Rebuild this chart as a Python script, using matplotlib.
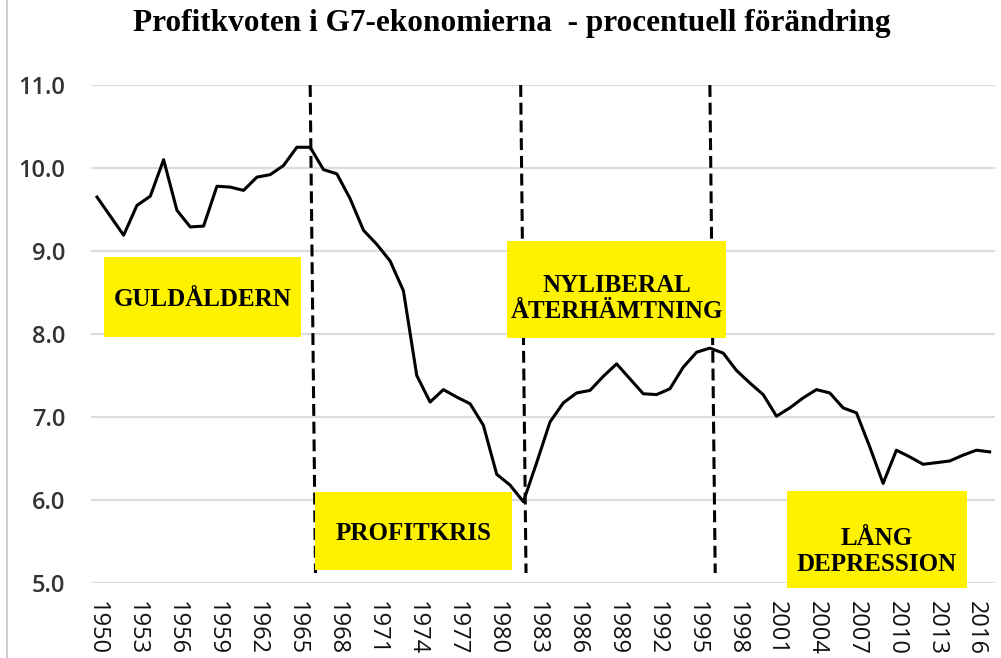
import matplotlib
matplotlib.use("Agg")
import matplotlib.pyplot as plt
from matplotlib.patches import Rectangle

years = list(range(1950, 2018))
profit_rate = [
    9.65, 9.42, 9.19, 9.55, 9.66, 10.10, 9.49, 9.29, 9.30, 9.78,
    9.77, 9.73, 9.89, 9.92, 10.03, 10.25, 10.25, 9.98, 9.93, 9.63,
    9.25, 9.08, 8.88, 8.52, 7.50, 7.18, 7.33, 7.24, 7.16, 6.90,
    6.31, 6.18, 5.98, 6.45, 6.94, 7.17, 7.29, 7.32, 7.49, 7.64,
    7.46, 7.28, 7.27, 7.34, 7.60, 7.78, 7.83, 7.77, 7.56, 7.41,
    7.27, 7.01, 7.11, 7.23, 7.33, 7.29, 7.11, 7.05, 6.64, 6.20,
    6.60, 6.52, 6.43, 6.45, 6.47, 6.54, 6.60, 6.58,
]
y_ticks = [5.0, 6.0, 7.0, 8.0, 9.0, 10.0, 11.0]
x_tick_years = list(range(1950, 2017, 3))
period_breaks = [1966.0, 1981.8, 1996.0]
title = "Profitkvoten i G7-ekonomierna  - procentuell förändring"

# annotation boxes: label, (x0, x1), (y0, y1), text position
boxes = [
    ("GULDÅLDERN", (1950.52, 1965.28), (7.96, 8.93), (1957.9, 8.42)),
    ("PROFITKRIS", (1966.33, 1981.16), (5.16, 6.10), (1973.75, 5.60)),
    ("NYLIBERAL\nÅTERHÄMTNING", (1980.79, 1997.19), (7.95, 9.12), (1989.0, 8.43)),
    ("LÅNG\nDEPRESSION", (2001.76, 2015.32), (4.94, 6.11), (2008.55, 5.38)),
]

fig = plt.figure(figsize=(10.01, 6.58), dpi=100)
ax = fig.add_axes([91/1001, 1-583/658, (995-91)/1001, (583-85)/658])

ax.set_xlim(1949.55, 2017.4)
ax.set_ylim(5.0, 11.0)

for v in y_ticks:
    ax.axhline(v, color="#dcdcdc", lw=1.6, zorder=0)

ax.plot(years, profit_rate, color="black", lw=2.2, zorder=3)

for xb in period_breaks:
    ax.plot([xb, xb + 0.4], [11.0, 5.12], color="black", lw=2.2,
            dashes=(3.9, 1.9), zorder=2)

for label, (x0, x1), (y0, y1), (tx, ty) in boxes:
    ax.add_patch(Rectangle((x0, y0), x1 - x0, y1 - y0, facecolor="#fff200",
                           edgecolor="none", zorder=4, clip_on=False))
    ax.text(tx, ty, label, ha="center", va="center", fontsize=18,
            fontweight="bold", family="Liberation Serif", color="black",
            linespacing=1.15, zorder=5)

ax.set_yticks(y_ticks)
ax.set_yticklabels([f"{v:.1f}" for v in y_ticks], fontsize=17,
                   family="Open Sans", fontweight="semibold", color="#333333")
ax.set_xticks(x_tick_years)
ax.set_xticklabels([str(y) for y in x_tick_years], rotation=270,
                   fontsize=17, family="Open Sans", fontweight="medium",
                   color="#111111")
ax.tick_params(axis="both", length=0)
ax.tick_params(axis="y", pad=18.5)
ax.tick_params(axis="x", pad=13)
for s in ax.spines.values():
    s.set_visible(False)

fig.text(512/1001, 1-23/658, title, ha="center", va="center", fontsize=22.5,
         fontweight="bold", family="Liberation Serif")
fig.add_artist(plt.Line2D([7/1001, 7/1001], [0, 1], color="#d0d0d0", lw=1.5))

fig.savefig("out.png", dpi=100)
